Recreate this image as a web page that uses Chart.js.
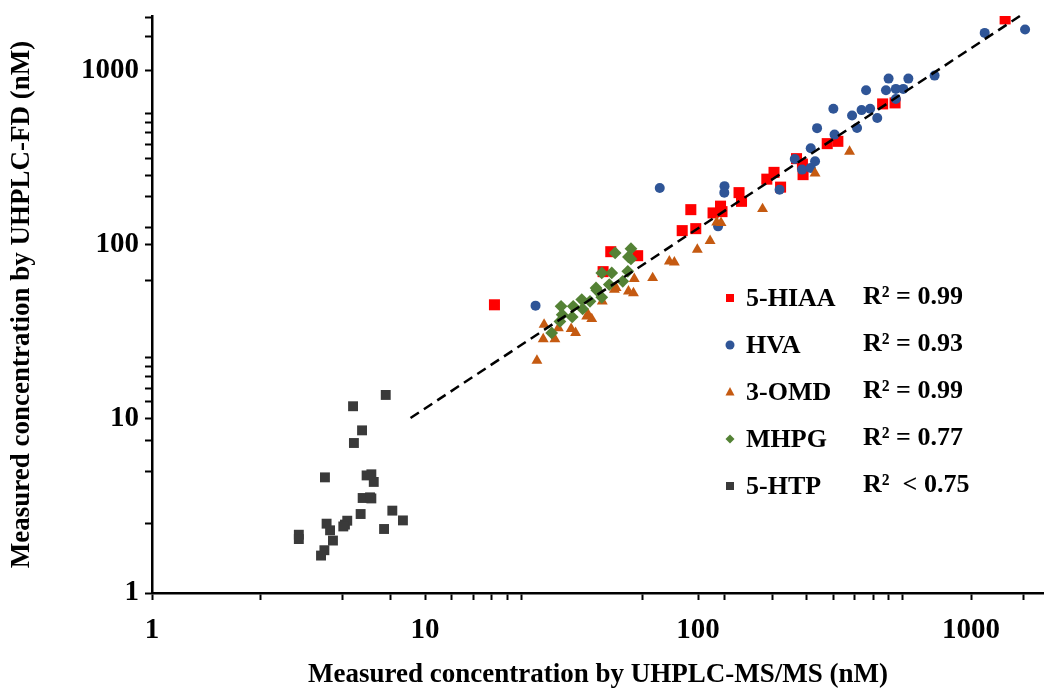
<!DOCTYPE html>
<html>
<head>
<meta charset="utf-8">
<script src="https://cdn.jsdelivr.net/npm/chart.js@4.4.0/dist/chart.umd.min.js"></script>
<style>
  html, body { margin: 0; padding: 0; background: #fff; overflow: hidden; }
  canvas { display: block; }
</style>
</head>
<body>
<canvas id="chart" width="1044" height="689"></canvas>
<script>
// pairs of [UHPLC-MS/MS, UHPLC-FD] in nM
const hiaa = [[17.96,45.1],[47.9,91.0],[44.9,69.9],[60.1,86.3],[87.5,120.2],[98.1,123.4],[94.1,158.6],[113.5,151.9],
  [120.9,166.1],[122.4,154.5],[141.3,198.6],[144.3,177.0],[178.6,237.3],[189.8,259.6],[200.6,213.6],[229.5,311.2],
  [241.2,289.6],[242.5,251.9],[297.3,379.5],[325.2,391.2],[474.4,641.5],[526.8,650.1],[1333,1973]];
const hva = [[25.4,44.6],[72.4,211.3],[125.0,216.4],[124.8,198.6],[118.4,127.2],[198.9,206.6],[226.1,309.9],[240.4,269.2],
  [258.7,275.4],[268.3,300.5],[258.7,356.6],[272.9,465.8],[316.2,427.6],[313.1,601.2],[382.3,467.0],[366.6,550.8],
  [397.1,591.0],[426.9,601.2],[453.3,533.1],[412.5,767.5],[488.0,767.5],[498.8,896.1],[530.3,782.3],[564.5,782.3],
  [530.3,685.0],[589.3,896.1],[735.3,932.6],[1122,1640],[1577,1713]];
const omd = [[25.7,21.6],[27.1,28.7],[27.3,34.7],[29.9,28.7],[30.8,33.2],[34.3,32.8],[35.6,31.1],[39.6,39.6],[40.8,37.4],
  [39.1,38.7],[44.6,47.2],[49.4,55.1],[50.1,56.4],[55.6,53.9],[58.0,52.7],[58.4,63.5],[68.2,64.3],[78.5,80.1],[81.9,79.1],
  [99.4,93.5],[110.7,104.9],[117.0,134.1],[121.4,133.1],[172.3,160.1],[268.3,256.4],[358.9,341.5]];
const mhpg = [[49.7,89.5],[56.8,94.7],[55.6,84.9],[56.8,82.7],[44.4,68.7],[48.3,68.7],[55.3,70.2],[53.0,61.5],[47.3,58.9],
  [42.3,56.4],[42.6,54.6],[44.4,49.8],[40.2,47.2],[37.5,48.3],[37.8,42.7],[34.9,44.2],[34.6,38.4],[31.5,44.2],[31.8,39.6],
  [31.2,36.2],[29.1,31.1]];
const htp = [[7.18,13.7],[5.45,11.8],[5.88,8.58],[5.49,7.26],[4.30,4.61],[6.11,4.73],[6.36,4.80],[6.49,4.34],[5.91,3.51],
  [6.29,3.54],[6.36,3.49],[5.81,2.84],[7.59,2.97],[8.30,2.61],[7.08,2.33],[4.36,2.50],[4.49,2.29],[5.09,2.47],[5.19,2.60],
  [5.02,2.41],[3.45,2.16],[3.45,2.04],[4.60,2.00],[4.28,1.76],[4.16,1.64]];
const fitLine = [[8.85,10.1],[1510,2050]];

const seriesNames = ['5-HIAA', 'HVA', '3-OMD', 'MHPG', '5-HTP'];
const r2Labels = ['R\u00B2 = 0.99', 'R\u00B2 = 0.93', 'R\u00B2 = 0.99', 'R\u00B2 = 0.77', 'R\u00B2  < 0.75'];

const majorTicks = [1, 10, 100, 1000];
const xMinorTicks = [2.5, 5, 7.5, 12.5, 15, 17.5, 20, 22.5, 62.5, 125, 187.5, 250, 312.5, 375, 437.5, 500, 562.5, 1562.5];
const yMinorTicks = [2.5, 5, 7.5, 12.5, 15, 17.5, 20, 22.5, 62.5, 125, 187.5, 250, 312.5, 375, 437.5, 500, 562.5, 1562.5, 2000];

const serif = '"Liberation Serif", "Times New Roman", serif';
const colors = ['#ff0000', '#2f5597', '#c55a11', '#548235', '#3a3a3a'];
const styles = ['rect', 'circle', 'triangle', 'rectRot', 'rect'];
const radii = [7.8, 5, 6.3, 6.4, 7];
const allSeries = [hiaa, hva, omd, mhpg, htp];

const toXY = arr => arr.map(([x, y]) => ({ x, y }));

const datasets = allSeries.map((s, i) => ({
  label: seriesNames[i],
  data: toXY(s),
  pointStyle: styles[i],
  pointRadius: radii[i],
  pointHoverRadius: radii[i],
  backgroundColor: colors[i],
  borderWidth: 0,
  order: 5 - i
}));
datasets.push({
  label: 'fit',
  data: toXY(fitLine),
  showLine: true,
  pointRadius: 0,
  borderColor: '#000',
  borderWidth: 2.5,
  borderDash: [10, 6],
  clip: false,
  order: 0
});

function logAxis(minor, max, text, titlePad, labelPad, size) {
  return {
    type: 'logarithmic',
    min: 1,
    max: max,
    afterBuildTicks: s => {
      s.ticks = majorTicks.concat(minor).sort((a, b) => a - b).map(v => ({ value: v }));
    },
    afterFit: s => {
      size(s);
      // keep the plot area edge-to-edge; labels may overhang
      s.paddingLeft = s.paddingRight = s.paddingTop = s.paddingBottom = 0;
    },
    ticks: {
      autoSkip: false,
      maxRotation: 0,
      padding: labelPad,
      color: '#000',
      font: { family: serif, size: 29, weight: 'bold' },
      callback: v => majorTicks.includes(v) ? String(v) : ''
    },
    grid: { drawOnChartArea: false, drawTicks: true, tickLength: 7, tickColor: '#000', tickWidth: 2 },
    border: { display: true, color: '#000', width: 2.5 },
    title: {
      display: true,
      text: text,
      color: '#000',
      font: { family: serif, size: 27, weight: 'bold', lineHeight: 1.05 },
      padding: { top: titlePad, bottom: 0 }
    }
  };
}

// legend with R² values drawn inside the plot area
const legendBox = { markerX: 730, textX: 746, r2X: 863, top: 297, step: 47 };

function marker(ctx, style, x, y, r) {
  ctx.beginPath();
  if (style === 'circle') {
    ctx.arc(x, y, r, 0, Math.PI * 2);
  } else if (style === 'triangle') {
    ctx.moveTo(x, y - r * 1.1);
    ctx.lineTo(x + r, y + r * 0.75);
    ctx.lineTo(x - r, y + r * 0.75);
    ctx.closePath();
  } else if (style === 'rectRot') {
    ctx.moveTo(x, y - r);
    ctx.lineTo(x + r, y);
    ctx.lineTo(x, y + r);
    ctx.lineTo(x - r, y);
    ctx.closePath();
  } else {
    ctx.rect(x - r, y - r, r * 2, r * 2);
  }
  ctx.fill();
}

const statsLegend = {
  id: 'statsLegend',
  afterDraw(chart) {
    const ctx = chart.ctx;
    ctx.save();
    ctx.font = 'bold 26px ' + serif;
    ctx.textBaseline = 'middle';
    seriesNames.forEach((name, i) => {
      const y = legendBox.top + i * legendBox.step;
      ctx.fillStyle = colors[i];
      marker(ctx, styles[i], legendBox.markerX, y + 1, styles[i] === 'rect' ? 4 : 4.5);
      ctx.fillStyle = '#000';
      ctx.fillText(name, legendBox.textX, y + 2);
      ctx.fillText(r2Labels[i], legendBox.r2X, y);
    });
    ctx.restore();
  }
};

new Chart(document.getElementById('chart'), {
  type: 'scatter',
  data: { datasets },
  options: {
    responsive: false,
    animation: false,
    layout: { autoPadding: false, padding: { top: 16, right: 0, left: 0, bottom: 0 } },
    plugins: { legend: { display: false }, tooltip: { enabled: false } },
    scales: {
      x: logAxis(xMinorTicks, 1850, 'Measured concentration by UHPLC-MS/MS (nM)', 0, 13, s => { s.height = 96; }),
      y: logAxis(yMinorTicks, 2050, 'Measured concentration by UHPLC-FD (nM)', 8, 6, s => { s.width = 152; })
    }
  },
  plugins: [statsLegend]
});
</script>
</body>
</html>
